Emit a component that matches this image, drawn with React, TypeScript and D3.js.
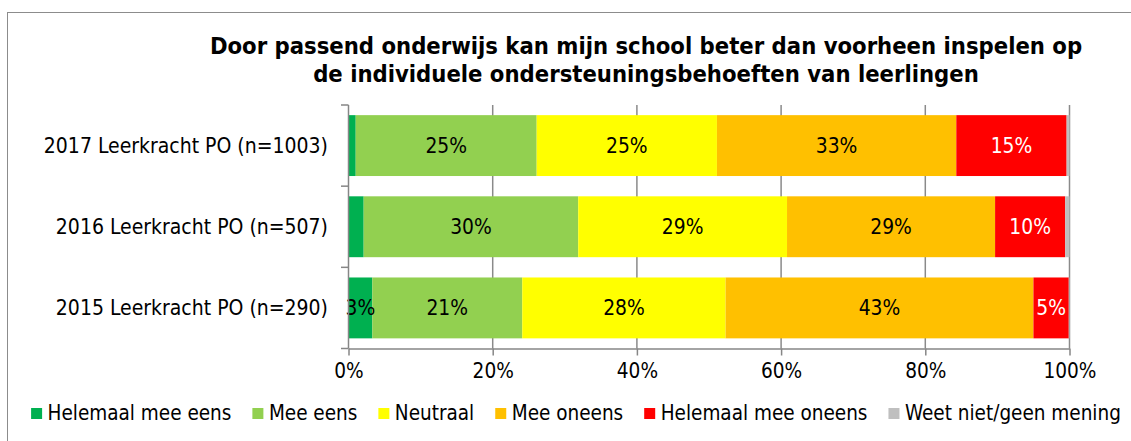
import React, { useEffect, useRef } from 'react';
import * as d3 from 'd3';

// categories (top to bottom)
const categories = [
  '2017 Leerkracht PO (n=1003)',
  '2016 Leerkracht PO (n=507)',
  '2015 Leerkracht PO (n=290)',
];
const seriesNames = [
  'Helemaal mee eens',
  'Mee eens',
  'Neutraal',
  'Mee oneens',
  'Helemaal mee oneens',
  'Weet niet/geen mening',
];
// percentages per category
const helemaalMeeEens = [1.0, 2.1, 3.3];
const meeEens = [25.1, 29.7, 20.8];
const neutraal = [25.0, 28.9, 28.2];
const meeOneens = [33.2, 28.8, 42.7];
const helemaalMeeOneens = [15.3, 9.7, 4.9];
const weetNiet = [0.4, 0.6, 0.1];
const tickValues = [0, 0.2, 0.4, 0.6, 0.8, 1];
const colors = ['#00B050', '#92D050', '#FFFF00', '#FFC000', '#FF0000', '#BFBFBF'];
const titleLines = [
  'Door passend onderwijs kan mijn school beter dan voorheen inspelen op',
  'de individuele ondersteuningsbehoeften van leerlingen',
];

const W = 1131, H = 441;
const FONT = '"DejaVu Sans Condensed", "DejaVu Sans", sans-serif';

export default function App() {
  const ref = useRef<SVGSVGElement>(null);

  useEffect(() => {
    const svg = d3.select(ref.current);
    svg.selectAll('*').remove();

    const allSeries = [helemaalMeeEens, meeEens, neutraal, meeOneens, helemaalMeeOneens, weetNiet];
    const rows = categories.map((c, i) => {
      const r: any = { cat: c };
      seriesNames.forEach((s, j) => { r[s] = allSeries[j][i]; });
      return r;
    });
    const stacked = d3.stack().keys(seriesNames).offset(d3.stackOffsetExpand)(rows);

    const x = d3.scaleLinear().domain([0, 1]).range([348.5, 1069.5]);
    const y = d3.scaleBand().domain(categories).range([105, 348.5])
      .paddingInner(0.25).paddingOuter(0.125);

    // frame
    svg.append('rect').attr('x', 7.5).attr('y', 12.5).attr('width', 1200).attr('height', 600)
      .attr('fill', 'white').attr('stroke', '#8c8c8c');

    // title
    svg.append('g').selectAll('text').data(titleLines).enter().append('text')
      .attr('x', 646).attr('y', (d, i) => 54 + i * 28)
      .attr('text-anchor', 'middle').attr('font-family', FONT).attr('font-weight', 'bold')
      .attr('font-size', 23.6).text(d => d);

    // gridlines
    svg.append('g').selectAll('line').data(tickValues.slice(1)).enter().append('line')
      .attr('x1', d => x(d)).attr('x2', d => x(d)).attr('y1', 105).attr('y2', 348.5)
      .attr('stroke', '#8a8a8a').attr('stroke-width', 1.5);

    // bars
    const layer = svg.append('g').selectAll('g').data(stacked).enter().append('g')
      .attr('fill', (d, i) => colors[i]);
    layer.selectAll('rect').data(d => d.map(p => ({ p, cat: (p.data as any).cat }))).enter().append('rect')
      .attr('x', d => x(d.p[0])).attr('width', d => x(d.p[1]) - x(d.p[0]))
      .attr('y', d => y(d.cat)!).attr('height', y.bandwidth());

    // data labels
    stacked.forEach((s, si) => {
      svg.append('g').selectAll('text')
        .data(s.filter(p => (p.data as any)[s.key] >= 3)).enter().append('text')
        .attr('x', p => x((p[0] + p[1]) / 2))
        .attr('y', p => y((p.data as any).cat)! + y.bandwidth() / 2)
        .attr('dy', '0.36em').attr('text-anchor', 'middle')
        .attr('font-family', FONT).attr('font-size', 20.8)
        .attr('fill', si === 4 ? 'white' : 'black')
        .text(p => Math.round((p.data as any)[s.key]) + '%');
    });

    // axes
    const axisColor = '#868686';
    const xAxis = svg.append('g').attr('transform', 'translate(0,348.5)')
      .call(d3.axisBottom(x).tickValues(tickValues).tickFormat(d3.format('.0%')).tickSize(7).tickSizeOuter(0));
    xAxis.select('.domain').attr('stroke', axisColor).attr('stroke-width', 1.5);
    xAxis.selectAll('.tick line').attr('stroke', axisColor).attr('stroke-width', 1.5);
    xAxis.selectAll('.tick text').attr('font-family', FONT).attr('font-size', 20.6)
      .attr('fill', 'black').attr('y', 15).attr('dy', '0.71em');

    const bounds = [105, ...categories.map(c => y(c)! + y.bandwidth() + y.step() * 0.125)];
    svg.append('line').attr('x1', 348.5).attr('x2', 348.5).attr('y1', 105).attr('y2', 348.5)
      .attr('stroke', axisColor).attr('stroke-width', 1.5);
    svg.append('g').selectAll('line').data(bounds).enter().append('line')
      .attr('x1', 341).attr('x2', 348.5).attr('y1', d => d).attr('y2', d => d)
      .attr('stroke', axisColor).attr('stroke-width', 1.5);
    svg.append('g').selectAll('text').data(categories).enter().append('text')
      .attr('x', 328).attr('y', d => y(d)! + y.bandwidth() / 2).attr('dy', '0.36em')
      .attr('text-anchor', 'end').attr('font-family', FONT).attr('font-size', 21).text(d => d);

    // legend
    const leg = svg.append('g');
    const items = leg.selectAll('g').data(seriesNames).enter().append('g');
    items.append('rect').attr('width', 11).attr('height', 11).attr('y', 408)
      .attr('fill', (d, i) => colors[i]);
    items.append('text').attr('x', 16.5).attr('y', 420).attr('font-family', FONT)
      .attr('font-size', 20.5).text(d => d);
    let cx = 0;
    const offsets: number[] = [];
    items.each(function () {
      offsets.push(cx);
      const t = d3.select(this).select('text').node() as SVGTextElement;
      cx += 16.5 + t.getComputedTextLength() + 21;
    });
    const total = cx - 21;
    const start = 576 - total / 2;
    items.attr('transform', (d, i) => `translate(${start + offsets[i]},0)`);
  }, []);

  return (
    <svg ref={ref} width={W} height={H}
      style={{ position: 'absolute', left: 0, top: 0, background: 'white' }} />
  );
}
